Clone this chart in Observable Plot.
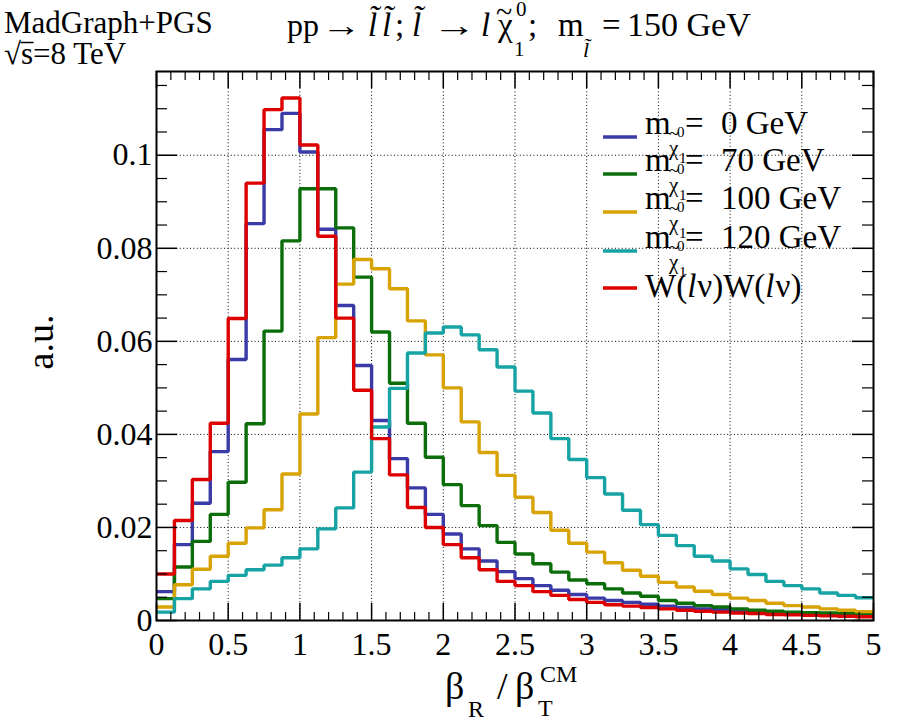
<!DOCTYPE html>
<html>
<head>
<meta charset="utf-8">
<script src="https://cdn.jsdelivr.net/npm/d3@7"></script>
<script src="https://cdn.jsdelivr.net/npm/@observablehq/plot@0.6"></script>
<style>
  body { margin: 0; background: #fff; }
  #chart { width: 900px; height: 720px; }
</style>
</head>
<body>
<div id="chart"></div>
<script>
// Histogram bin layout: 40 bins of width 0.125 on [0, 5]
const binWidth = 0.125;

// Normalised bin contents (a.u.), one array per sample
const mChi0 = [0.0062,0.0163,0.0252,0.0363,0.0561,0.0853,0.1055,0.1090,0.1007,0.0841,0.0677,0.0548,0.0430,0.0348,0.0285,0.0228,0.0186,0.0154,0.0128,0.0105,0.0090,0.0075,0.0065,0.0056,0.0048,0.0043,0.0039,0.0035,0.0031,0.0028,0.0025,0.0023,0.0021,0.0019,0.0017,0.0015,0.0014,0.0013,0.0012,0.0011];
const mChi70 = [0.0047,0.0115,0.0170,0.0228,0.0297,0.0423,0.0622,0.0816,0.0928,0.0928,0.0844,0.0738,0.0620,0.0510,0.0424,0.0351,0.0292,0.0247,0.0204,0.0168,0.0143,0.0122,0.0104,0.0087,0.0079,0.0068,0.0059,0.0052,0.0043,0.0037,0.0032,0.0029,0.0025,0.0022,0.0020,0.0018,0.0017,0.0016,0.0015,0.0014];
const mChi100 = [0.0029,0.0077,0.0110,0.0138,0.0166,0.0199,0.0238,0.0315,0.0444,0.0608,0.0723,0.0776,0.0756,0.0713,0.0644,0.0571,0.0500,0.0427,0.0361,0.0312,0.0265,0.0232,0.0194,0.0166,0.0147,0.0124,0.0108,0.0095,0.0082,0.0072,0.0063,0.0056,0.0048,0.0043,0.0037,0.0032,0.0029,0.0025,0.0022,0.0019];
const mChi120 = [0.0018,0.0047,0.0068,0.0084,0.0097,0.0109,0.0119,0.0135,0.0154,0.0197,0.0242,0.0319,0.0416,0.0499,0.0575,0.0618,0.0631,0.0614,0.0582,0.0545,0.0493,0.0446,0.0391,0.0346,0.0307,0.0272,0.0237,0.0206,0.0183,0.0161,0.0138,0.0128,0.0111,0.0099,0.0084,0.0075,0.0068,0.0059,0.0054,0.0049];
const wwLnu = [0.0100,0.0215,0.0303,0.0424,0.0649,0.0940,0.1098,0.1123,0.1022,0.0826,0.0650,0.0495,0.0391,0.0313,0.0243,0.0200,0.0163,0.0135,0.0109,0.0084,0.0075,0.0062,0.0054,0.0045,0.0039,0.0034,0.0031,0.0028,0.0025,0.0022,0.0020,0.0018,0.0016,0.0015,0.0013,0.0012,0.0011,0.0010,0.0009,0.0008];

// Legend order / drawing order
const sampleKeys = ["0", "70", "100", "120", "WW"];
const sampleValues = [mChi0, mChi70, mChi100, mChi120, wwLnu];
const sampleColors = ["#3b3ba8", "#0b6e0b", "#d8a305", "#17a3a3", "#dc0000"];
const legendMass = ["0 GeV", "70 GeV", "100 GeV", "120 GeV"];

// Axis ticks
const xTickLabels = [0, 0.5, 1, 1.5, 2, 2.5, 3, 3.5, 4, 4.5, 5];
const yTickLabels = [0, 0.02, 0.04, 0.06, 0.08, 0.1];
const xMinor = d3.range(0, 51).map(i => i / 10).filter(v => Math.abs(v * 2 - Math.round(v * 2)) > 1e-9);
const yMinor = d3.range(0, 24).map(i => i * 0.005).filter(v => Math.abs(v / 0.02 - Math.round(v / 0.02)) > 1e-9);

const W = 900, H = 720;
const mL = 156, mR = 27, mT = 71, mB = 100;
const innerW = W - mL - mR, innerH = H - mT - mB;
const serif = "'Liberation Serif', 'Times New Roman', serif";

// Step outline: one point per lower bin edge plus the closing upper edge
function stepRows(key, values) {
  const rows = values.map((v, i) => ({key, x: i * binWidth, y: v}));
  rows.push({key, x: values.length * binWidth, y: values[values.length - 1]});
  return rows;
}

const lineMarks = sampleKeys.map((k, i) =>
  Plot.line(stepRows(k, sampleValues[i]), {
    x: "x", y: "y", curve: "step-after",
    stroke: sampleColors[i], strokeWidth: 3.4,
    strokeLinejoin: "miter", strokeLinecap: "butt"
  })
);

const plot = Plot.plot({
  width: W, height: H,
  marginLeft: mL, marginRight: mR, marginTop: mT, marginBottom: mB,
  x: {domain: [0, 5], axis: null},
  y: {domain: [0, 0.118], axis: null},
  style: {background: "#fff", color: "#000"},
  marks: [
    Plot.ruleX(xTickLabels.slice(1, -1), {stroke: "#000", strokeWidth: 1, strokeDasharray: "1,2.4"}),
    Plot.ruleY(yTickLabels.slice(1), {stroke: "#000", strokeWidth: 1, strokeDasharray: "1,2.4"}),
    ...lineMarks,
    // inward ticks on all four sides
    Plot.tickX(xTickLabels, {stroke: "#000", strokeWidth: 1.5, insetTop: innerH - 17}),
    Plot.tickX(xMinor, {stroke: "#000", strokeWidth: 1.2, insetTop: innerH - 8}),
    Plot.tickX(xTickLabels, {stroke: "#000", strokeWidth: 1.5, insetBottom: innerH - 17}),
    Plot.tickX(xMinor, {stroke: "#000", strokeWidth: 1.2, insetBottom: innerH - 9}),
    Plot.tickY(yTickLabels, {stroke: "#000", strokeWidth: 1.5, insetRight: innerW - 21}),
    Plot.tickY(yMinor, {stroke: "#000", strokeWidth: 1.2, insetRight: innerW - 11}),
    Plot.tickY(yTickLabels, {stroke: "#000", strokeWidth: 1.5, insetLeft: innerW - 21}),
    Plot.tickY(yMinor, {stroke: "#000", strokeWidth: 1.2, insetLeft: innerW - 11}),
    Plot.frame({stroke: "#000", strokeWidth: 2}),
    Plot.axisX(xTickLabels, {tickSize: 0, tickPadding: 12, fontSize: 32, tickFormat: d => String(d), label: null}),
    Plot.axisY(yTickLabels, {tickSize: 0, tickPadding: 4, fontSize: 32, tickFormat: d => String(d), label: null})
  ]
});
document.getElementById("chart").appendChild(plot);

const svg = d3.select(plot);
// tick labels in the serif face
svg.selectAll("text")
  .style("font-family", serif)
  .style("font-size", "32px")
  .style("font-variant", "normal");

// ---- annotations: title, labels, legend ----
const g = svg.append("g").attr("fill", "#000");

// one piece of text at an absolute position
function put(x, y, t, size, opts = {}) {
  const el = g.append("text")
    .attr("x", x).attr("y", y)
    .attr("text-anchor", opts.anchor || "start")
    .style("font-family", serif)
    .style("font-size", size + "px")
    .style("font-style", opts.italic ? "italic" : "normal")
    .style("white-space", "pre")
    .text(t);
  if (opts.transform) el.attr("transform", opts.transform);
  return el;
}
const width = el => el.node().getComputedTextLength();

// generator / energy tag
put(4, 33, "MadGraph+PGS", 31);
const root = put(4, 64, "√", 31);
const sx = 4 + width(root);
const sEl = put(sx, 64, "s", 31);
put(sx + width(sEl), 64, "=8 TeV", 31);
g.append("line")
  .attr("x1", sx - 0.5).attr("x2", sx + width(sEl) + 0.5)
  .attr("y1", 42.5).attr("y2", 42.5)
  .attr("stroke", "#000").attr("stroke-width", 1.5);

// process title: pp → l̃l̃; l̃ → l χ̃⁰₁; m(l̃) = 150 GeV
const tb = 36;
put(287, tb, "pp", 32);
put(321, tb, "→", 32).attr("textLength", 40).attr("lengthAdjust", "spacingAndGlyphs");
put(368, tb, "l\u0303", 33, {italic: true});
put(382, tb, "l\u0303", 33, {italic: true});
put(395, tb, ";", 33);
put(412, tb, "l\u0303", 33, {italic: true});
put(432, tb, "→", 32).attr("textLength", 44).attr("lengthAdjust", "spacingAndGlyphs");
put(481, tb, "l", 33, {italic: true});
put(498, tb, "χ", 33);
put(496, tb - 14, "~", 30);
put(516, 16, "0", 21);
put(514, 56, "1", 21);
put(528, tb, ";", 33);
put(558, tb, "m", 33);
put(583, 57, "l\u0303", 22, {italic: true});
put(602, tb, "=", 33);
put(627, tb, "150 GeV", 34);

// y-axis title
put(0, 0, "a.u.", 38, {anchor: "middle", transform: "translate(53,342) rotate(-90)"});

// x-axis title: β_R / β_T^CM
put(445, 699, "β", 38);
put(468, 717, "R", 24);
put(497, 699, "/", 38);
put(515, 699, "β", 38);
put(538, 716, "T", 24);
put(540, 682, "CM", 24);

// legend
const legendLineY = [137, 174, 212, 251, 288];
sampleKeys.forEach((k, i) => {
  const ly = legendLineY[i];
  g.append("line")
    .attr("x1", 603).attr("x2", 637).attr("y1", ly).attr("y2", ly)
    .attr("stroke", sampleColors[i]).attr("stroke-width", 3.4);
  if (i < 4) {
    const b = ly - 3;
    put(645, b, "m", 33);
    // neutralino subscript: tilde chi with stacked 0 / 1 indices
    put(669, b + 6, "~", 18);
    put(677, b + 3, "0", 15);
    put(669, b + 21, "χ", 21);
    put(679, b + 29, "1", 15);
    put(685, b, "=", 33);
    put(721, b, legendMass[i], 33);
  } else {
    const b = ly + 9;
    let x = 645;
    [["W(", false], ["l", true], ["ν)W(", false], ["l", true], ["ν)", false]].forEach(([t, it]) => {
      const e = put(x, b, t, 33, {italic: it});
      x += width(e) + (it ? 1 : 0);
    });
  }
});
</script>
</body>
</html>
